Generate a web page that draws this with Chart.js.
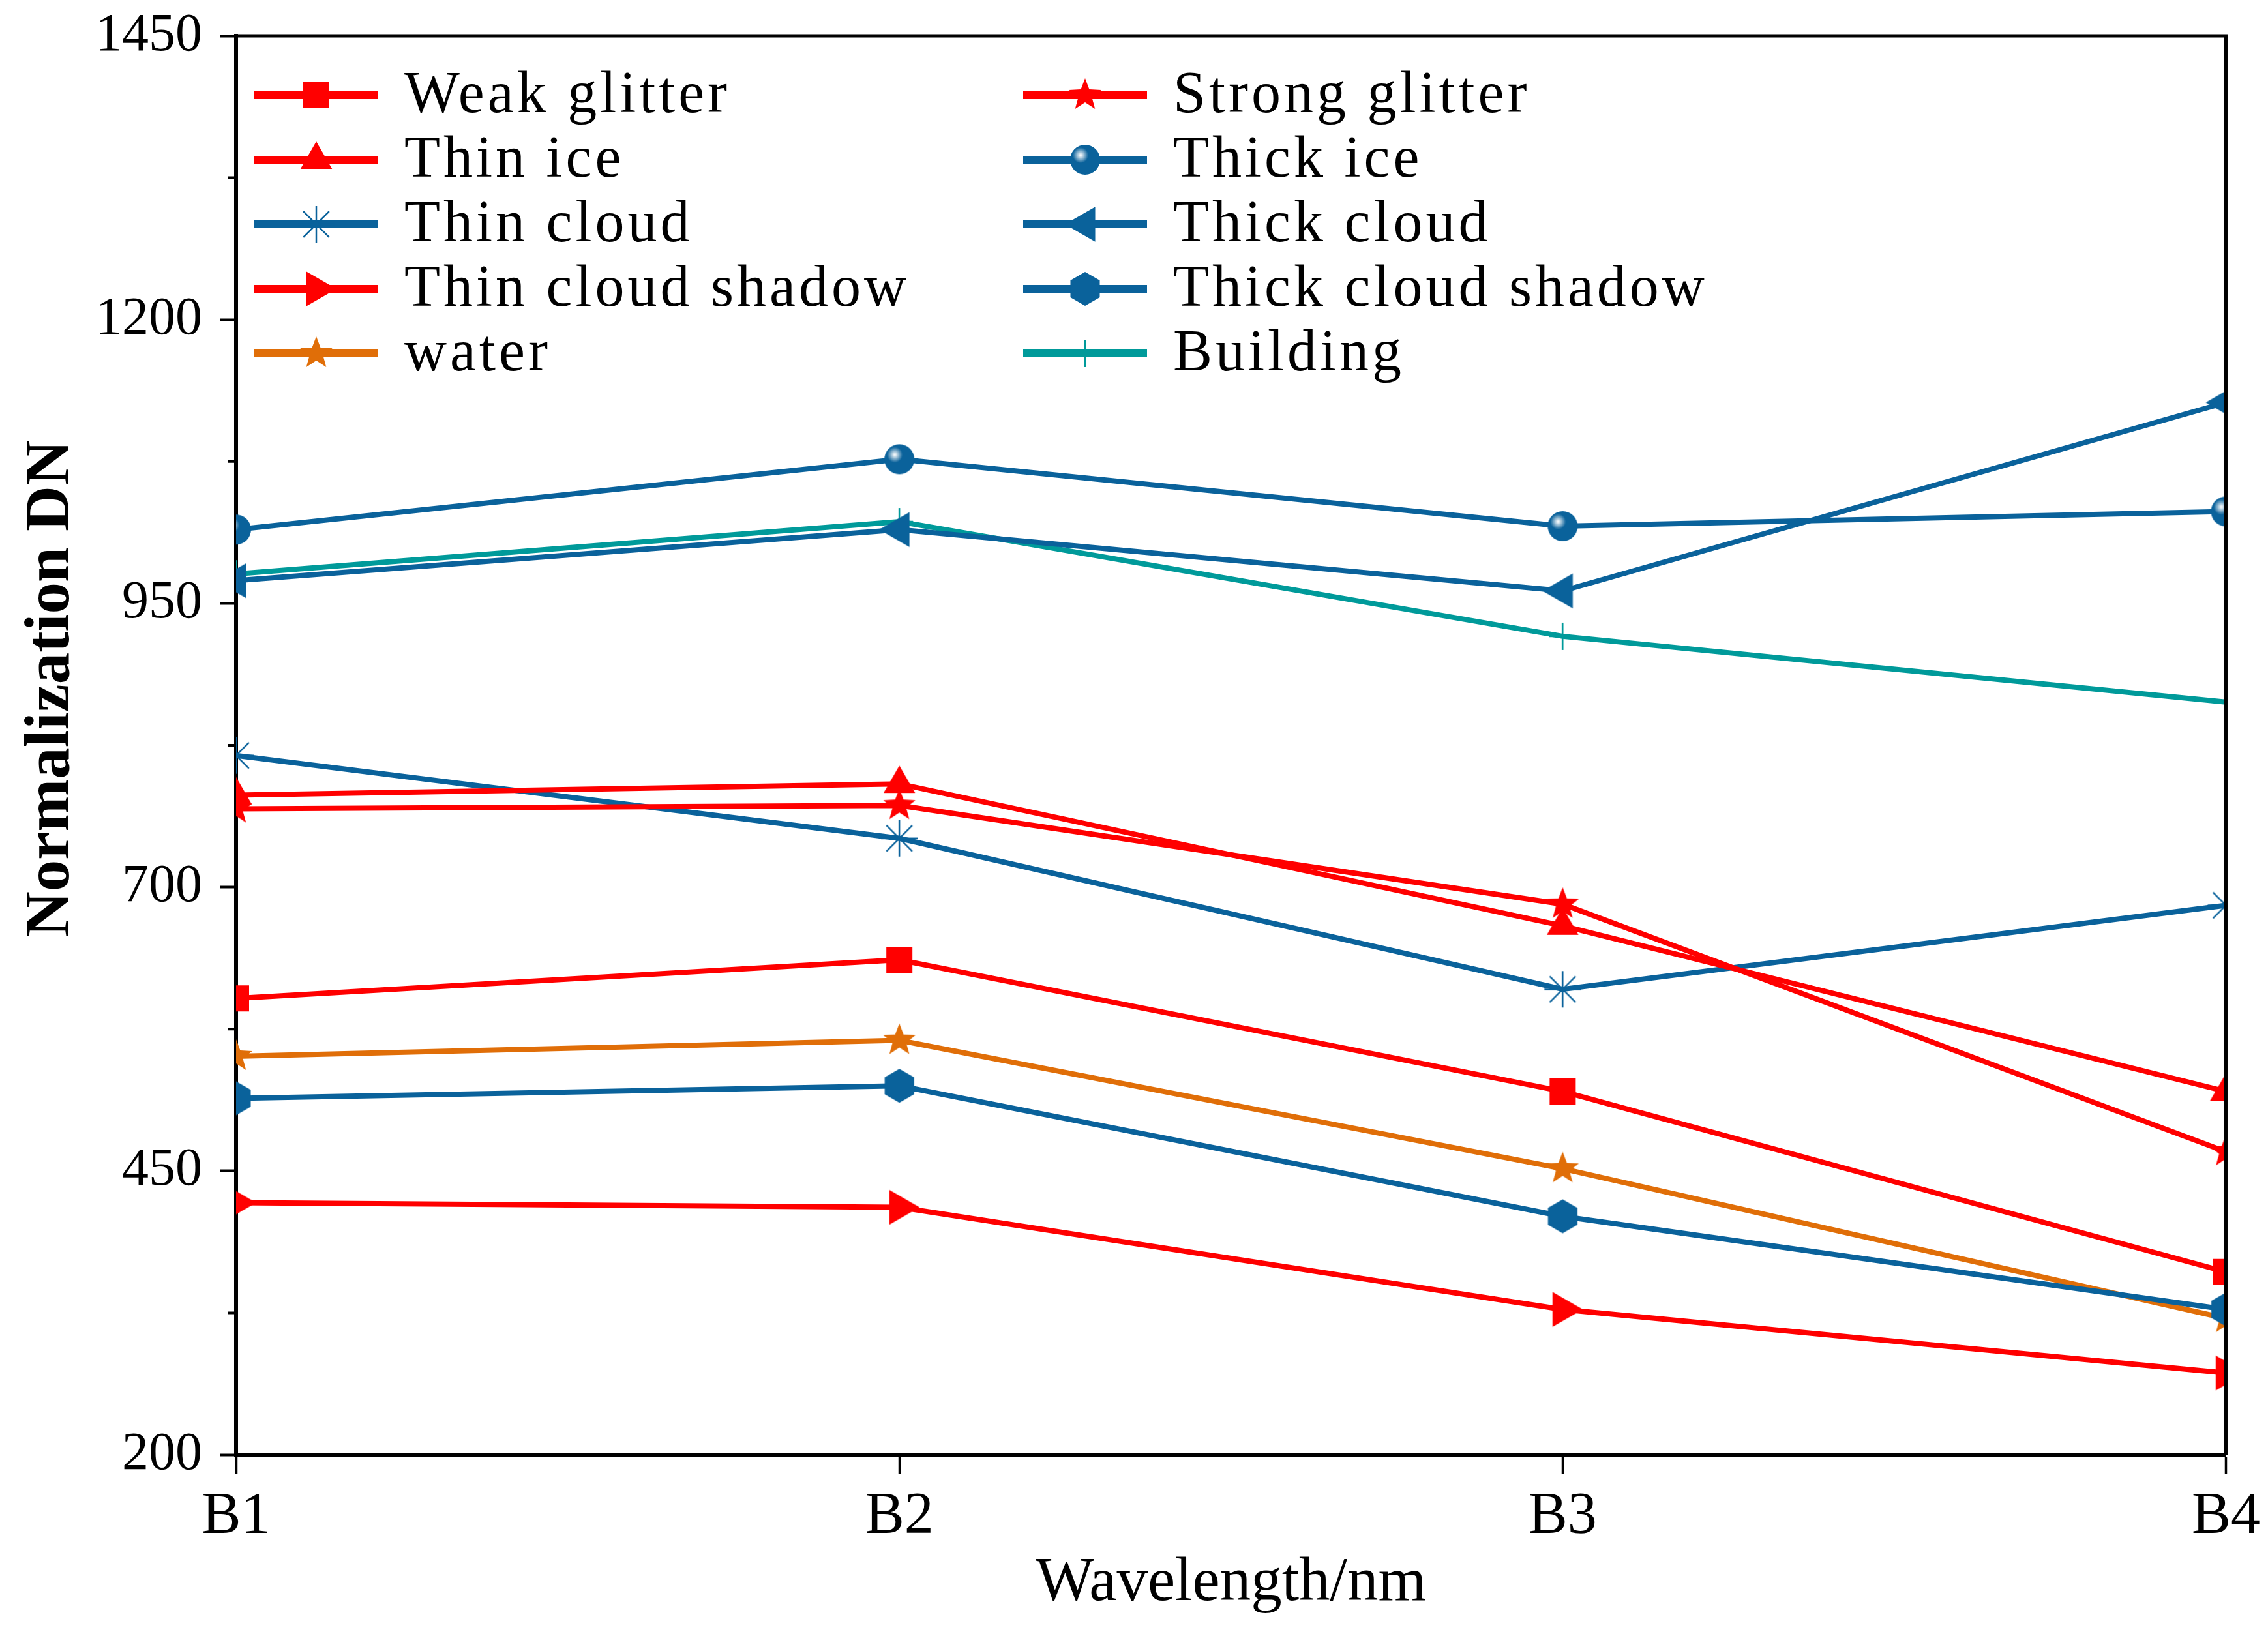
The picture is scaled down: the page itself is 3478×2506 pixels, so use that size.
<!DOCTYPE html>
<html><head><meta charset="utf-8">
<script src="https://cdn.jsdelivr.net/npm/chart.js@4.4.0/dist/chart.umd.min.js"></script>
<style>html,body{margin:0;padding:0;background:#fff;}#wrap{width:3478px;height:2506px;}</style>
</head><body><div id="wrap"><canvas id="c" width="3478" height="2506"></canvas></div>
<script>
// ---------------- data ----------------
const categories = ['B1', 'B2', 'B3', 'B4'];
const weakGlitter      = [602, 636, 520, 361];
const strongGlitter    = [769, 772, 685, 467];
const thinIce          = [781, 791, 666, 520];
const thickIce         = [1015, 1077, 1018, 1031];
const thinCloud        = [816, 743, 610, 684];
const thickCloud       = [970, 1015, 961, 1127];
const thinCloudShadow  = [422, 418, 328, 272];
const thickCloudShadow = [514, 525, 410, 328];
const water            = [551, 565, 452, 320];
const building         = [976, 1022, 921, 863];
const yTickValues = [200, 450, 700, 950, 1200, 1450];
const xTitle = 'Wavelength/nm';
const yTitle = 'Normalization DN';

// ---------------- styles ----------------
const RED = '#FF0000', BLUE = '#0A629B', ORANGE = '#E06E08', TEAL = '#009A9A';

function mk(size, fn) {
  const c = document.createElement('canvas');
  c.width = size; c.height = size;
  const g = c.getContext('2d');
  g.translate(size / 2, size / 2);
  fn(g);
  return c;
}
function poly(g, pts) { g.beginPath(); pts.forEach((p, i) => i ? g.lineTo(p[0], p[1]) : g.moveTo(p[0], p[1])); g.closePath(); }
function marker(type, color) {
  switch (type) {
    case 'square': return mk(46, g => { g.fillStyle = color; g.fillRect(-20, -20, 40, 40); });
    case 'triUp': case 'triLeft': case 'triRight': {
      const rot = type === 'triUp' ? 0 : (type === 'triLeft' ? -Math.PI / 2 : Math.PI / 2);
      const r = type === 'triUp' ? 28 : 31;
      return mk(70, g => {
        g.rotate(rot);
        g.fillStyle = color;
        poly(g, [[0, -r], [r * Math.sin(2 * Math.PI / 3), -r * Math.cos(2 * Math.PI / 3)], [-r * Math.sin(2 * Math.PI / 3), -r * Math.cos(2 * Math.PI / 3)]]);
        g.fill();
      });
    }
    case 'circleHi': return mk(54, g => {
      g.fillStyle = color; g.beginPath(); g.arc(0, 0, 23, 0, Math.PI * 2); g.fill();
      const gr = g.createRadialGradient(-7, -7, 1, -7, -7, 12);
      gr.addColorStop(0, 'rgba(255,255,255,0.95)');
      gr.addColorStop(1, 'rgba(255,255,255,0)');
      g.fillStyle = gr; g.beginPath(); g.arc(0, 0, 23, 0, Math.PI * 2); g.fill();
    });
    case 'hexagon': return mk(58, g => {
      const r = 26, pts = [];
      for (let k = 0; k < 6; k++) { const a = -Math.PI / 2 + k * Math.PI / 3; pts.push([r * Math.cos(a), r * Math.sin(a)]); }
      g.fillStyle = color; poly(g, pts); g.fill();
    });
    case 'star5': return mk(60, g => {
      const R = 26, ri = 11, pts = [];
      for (let k = 0; k < 10; k++) { const a = -Math.PI / 2 + k * Math.PI / 5; const rr = k % 2 ? ri : R; pts.push([rr * Math.cos(a), rr * Math.sin(a)]); }
      g.fillStyle = color; poly(g, pts); g.fill();
    });
    case 'asterisk': return mk(64, g => {
      g.strokeStyle = color; g.lineWidth = 2.5; g.beginPath();
      for (let k = 0; k < 4; k++) { const a = k * Math.PI / 4; g.moveTo(-28 * Math.sin(a), -28 * Math.cos(a)); g.lineTo(28 * Math.sin(a), 28 * Math.cos(a)); }
      g.stroke();
    });
    case 'plus': return mk(52, g => {
      g.strokeStyle = color; g.lineWidth = 2.5; g.beginPath();
      g.moveTo(0, -21); g.lineTo(0, 21); g.moveTo(-21, 0); g.lineTo(21, 0); g.stroke();
    });
  }
}

const seriesDefs = [
  { label: 'Weak glitter',       data: weakGlitter,      color: RED,    marker: 'square' },
  { label: 'Strong glitter',     data: strongGlitter,    color: RED,    marker: 'star5' },
  { label: 'Thin ice',           data: thinIce,          color: RED,    marker: 'triUp' },
  { label: 'Thick ice',          data: thickIce,         color: BLUE,   marker: 'circleHi' },
  { label: 'Thin cloud',         data: thinCloud,        color: BLUE,   marker: 'asterisk' },
  { label: 'Thick cloud',        data: thickCloud,       color: BLUE,   marker: 'triLeft' },
  { label: 'Thin cloud shadow',  data: thinCloudShadow,  color: RED,    marker: 'triRight' },
  { label: 'Thick cloud shadow', data: thickCloudShadow, color: BLUE,   marker: 'hexagon' },
  { label: 'water',              data: water,            color: ORANGE, marker: 'star5' },
  { label: 'Building',           data: building,         color: TEAL,   marker: 'plus' }
];
seriesDefs.forEach(s => s.img = marker(s.marker, s.color));

const datasets = seriesDefs.map(s => ({
  label: s.label,
  data: s.data,
  borderColor: s.color,
  backgroundColor: s.color,
  borderWidth: 8,
  pointStyle: s.img,
  pointRadius: 20,
  pointHoverRadius: 20,
  tension: 0,
  fill: false,
  clip: 0
}));

// ---------------- plugins ----------------
const framePlugin = {
  id: 'frame',
  afterDatasetsDraw(chart) {
    const { ctx, chartArea: a, scales } = chart;
    ctx.save();
    ctx.strokeStyle = '#000';
    ctx.lineWidth = 5;
    ctx.beginPath();
    ctx.moveTo(a.left - 3, a.top); ctx.lineTo(a.right, a.top); ctx.lineTo(a.right, a.bottom);
    ctx.stroke();
    // minor ticks on y axis
    const y = scales.y;
    ctx.lineWidth = 4;
    ctx.beginPath();
    for (let i = 0; i < y.ticks.length - 1; i++) {
      const mid = (y.ticks[i].value + y.ticks[i + 1].value) / 2;
      const py = y.getPixelForValue(mid);
      ctx.moveTo(a.left - 13, py); ctx.lineTo(a.left, py);
    }
    ctx.stroke();
    // y axis title
    ctx.save();
    ctx.translate(80, (a.top + a.bottom) / 2 - 87);
    ctx.rotate(-Math.PI / 2);
    ctx.font = 'bold 97px "Liberation Serif"';
    ctx.fillStyle = '#000';
    ctx.textAlign = 'center';
    ctx.textBaseline = 'middle';
    ctx.fillText(yTitle, 0, 0);
    ctx.restore();
    ctx.restore();
  },
  afterDraw(chart) {
    const { ctx, chartArea: a } = chart;
    ctx.save();
    ctx.font = '90px "Liberation Serif"';
    try { ctx.letterSpacing = '5px'; } catch (e) {}
    ctx.textBaseline = 'middle';
    ctx.textAlign = 'left';
    seriesDefs.forEach((s, i) => {
      const col = i % 2, row = Math.floor(i / 2);
      const ox = a.left + 28 + col * 1179;
      const yy = a.top + 91 + row * 99;
      ctx.strokeStyle = s.color; ctx.lineWidth = 12; ctx.lineCap = 'butt';
      ctx.beginPath(); ctx.moveTo(ox, yy); ctx.lineTo(ox + 190, yy); ctx.stroke();
      ctx.drawImage(s.img, ox + 95 - s.img.width / 2, yy - s.img.height / 2);
      ctx.fillStyle = '#000';
      ctx.fillText(s.label, ox + 230, yy + 2);
    });
    ctx.restore();
  }
};

// ---------------- chart ----------------
new Chart(document.getElementById('c'), {
  type: 'line',
  data: { labels: categories, datasets },
  options: {
    responsive: false,
    devicePixelRatio: 1,
    animation: false,
    layout: { padding: { left: 20, right: 62, top: 55, bottom: 20 } },
    plugins: { legend: { display: false }, tooltip: { enabled: false } },
    scales: {
      x: {
        type: 'category',
        offset: false,
        afterFit: s => { s.height = 255; },
        border: { display: true, color: '#000', width: 6 },
        grid: { drawOnChartArea: false, drawTicks: true, tickLength: 30, tickWidth: 3.5, tickColor: '#000', color: '#000' },
        ticks: { color: '#000', font: { family: '"Liberation Serif"', size: 90 }, padding: 12, maxRotation: 0 },
        title: { display: true, text: xTitle, color: '#000', font: { family: '"Liberation Serif"', size: 95 }, padding: { top: 0, bottom: 0 } }
      },
      y: {
        type: 'linear',
        min: 200, max: 1450,
        afterFit: s => { s.width = 342; s.paddingTop = 0; s.paddingBottom = 0; },
        afterBuildTicks: s => { s.ticks = yTickValues.map(v => ({ value: v })); },
        border: { display: true, color: '#000', width: 6 },
        grid: { drawOnChartArea: false, drawTicks: true, tickLength: 25, tickWidth: 4, tickColor: '#000', color: '#000' },
        ticks: { color: '#000', font: { family: '"Liberation Serif"', size: 82 }, padding: 27, callback: v => String(v) },
        title: { display: false, text: yTitle }
      }
    }
  },
  plugins: [framePlugin]
});
</script>
</body></html>
